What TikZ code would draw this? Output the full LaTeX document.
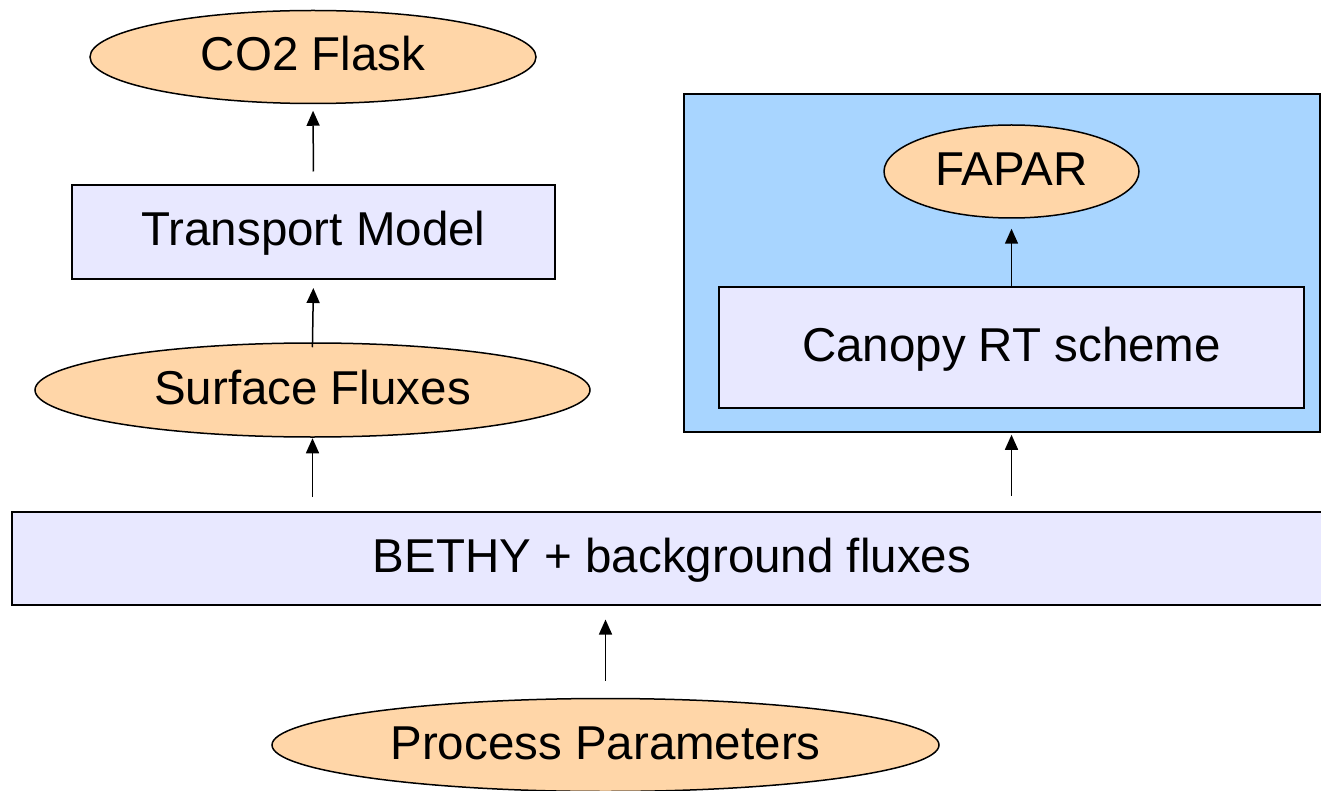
\documentclass[tikz,border=0pt]{standalone}
\usepackage{fontspec}
\setmainfont{Liberation Sans}
\usetikzlibrary{arrows.meta,shapes.geometric}
\definecolor{peach}{RGB}{255,214,168}
\definecolor{lav}{RGB}{232,232,255}
\definecolor{sky}{RGB}{168,213,255}
\begin{document}
\begin{tikzpicture}[x=1pt,y=-1pt,
  every node/.style={font=\fontsize{47.5}{57}\selectfont, inner sep=0pt, text height=35.6pt, text depth=7.6pt},
  ell/.style={ellipse, draw=black, fill=peach, line width=1.5pt},
  bx/.style={rectangle, draw=black, fill=lav, line width=2pt},
  grp/.style={rectangle, draw=black, fill=sky, line width=1.5pt},
  arr/.style={-{Triangle[length=15pt,width=13pt]}, line width=1.5pt}]
\useasboundingbox (0,0) rectangle (1321,791);
% group box
\node[grp, minimum width=636pt, minimum height=338pt] (blue) at (1002,263) {};
% nodes
\node[ell, minimum width=446pt, minimum height=93pt] (co2) at (313,57) {CO2 Flask};
\node[bx, minimum width=483pt, minimum height=94pt] (transport) at (313.5,232) {Transport Model};
\node[ell, minimum width=555pt, minimum height=94pt] (surf) at (312.5,390) {Surface Fluxes};
\node[bx, minimum width=1320pt, minimum height=93pt] (bethy) at (672,558) {BETHY + background fluxes};
\node[ell, minimum width=667pt, minimum height=93pt] (proc) at (605.5,745) {Process Parameters};
\node[ell, minimum width=255pt, minimum height=93pt] (fapar) at (1011.5,171.5) {FAPAR};
\node[bx, minimum width=585pt, minimum height=121pt] (canopy) at (1011.5,347.5) {Canopy RT scheme};
% connectors
\draw[arr, shorten <=12.5pt, shorten >=6.5pt] (transport.north) -- (co2.south);
\draw[arr, shorten <=-5pt, shorten >=8pt] (surf.north) -- (transport.south);
\draw[arr, shorten <=13.5pt, shorten >=0.5pt] (surf.south |- bethy.north) -- (surf.south);
\draw[arr, shorten <=17pt, shorten >=14pt] (proc.north) -- (proc.north |- bethy.south);
\draw[arr, shorten <=0pt, shorten >=10pt] (canopy.north) -- (fapar.south);
\draw[arr, shorten <=15pt, shorten >=2pt] (canopy.south |- bethy.north) -- (canopy.south |- blue.south);
\end{tikzpicture}
\end{document}
